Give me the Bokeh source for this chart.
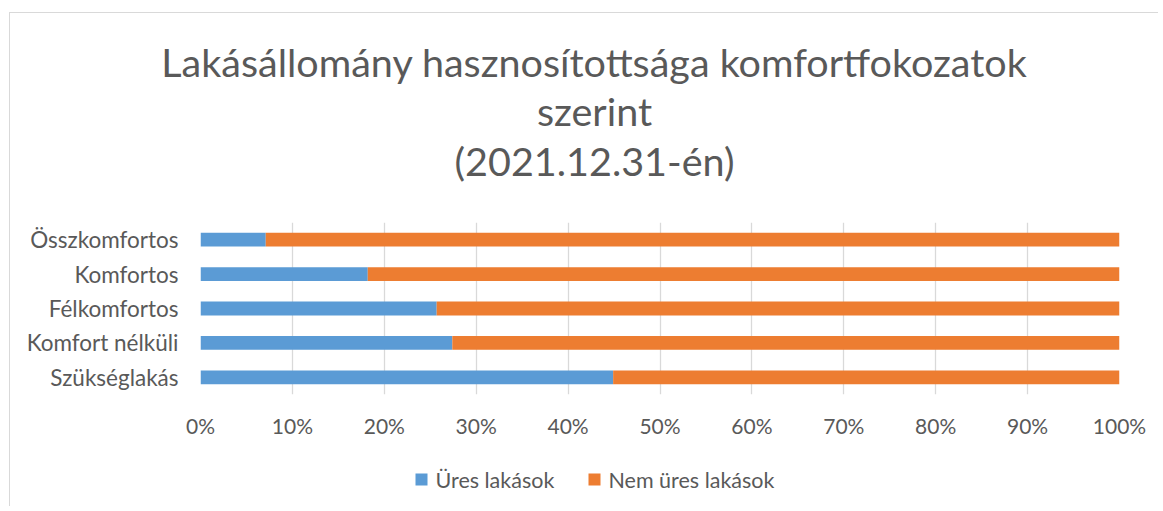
from bokeh.plotting import figure
from bokeh.layouts import column
from bokeh.models import FixedTicker, CustomJSTickFormatter, Range1d
from bokeh.core.properties import value
from bokeh.embed import file_html
from bokeh.resources import INLINE

categories = ["Összkomfortos", "Komfortos", "Félkomfortos", "Komfort nélküli", "Szükséglakás"]
ures = [7.1, 18.2, 25.7, 27.4, 44.9]
nem_ures = [92.9, 81.8, 74.3, 72.6, 55.1]
series_names = ["Üres lakások", "Nem üres lakások"]
x_ticks = [0, 10, 20, 30, 40, 50, 60, 70, 80, 90, 100]
title_lines = ["Lakásállomány hasznosítottsága komfortfokozatok", "szerint", "(2021.12.31-én)"]

FONT = "Lato"
TXT = "#595959"
BLUE = "#5B9BD5"
ORANGE = "#ED7D31"
GRID = "#D9D9D9"
COLORS = [BLUE, ORANGE]

W = 1158
H_TOP, H_MAIN, H_LEG = 200, 245, 61

GRAD = "linear-gradient(#D9D9D9,#D9D9D9)"


def blank(height, top_line=False):
    f = figure(width=W, height=height, x_range=Range1d(0, W), y_range=Range1d(height, 0),
               output_backend="svg", toolbar_location=None, frame_align=False,
               min_border=0, min_border_left=0, min_border_right=0,
               min_border_top=0, min_border_bottom=0)
    f.axis.visible = False
    f.grid.grid_line_color = None
    f.outline_line_color = None
    f.background_fill_color = None
    f.border_fill_color = None
    if top_line:
        f.styles = {"background-color": "white",
                    "background-image": GRAD + ", " + GRAD,
                    "background-size": "100% 1px, 1px 100%",
                    "background-position": "9px 12px, 9px 12px",
                    "background-repeat": "no-repeat"}
    else:
        f.styles = {"background-color": "white",
                    "background-image": GRAD,
                    "background-size": "1px 100%",
                    "background-position": "9px 0px",
                    "background-repeat": "no-repeat"}
    return f


# ---- title ----
pt = blank(H_TOP, top_line=True)
pt.text(x=[594, 594, 594], y=[61, 110, 160], text=title_lines,
        text_align="center", text_baseline="middle",
        text_font=value(FONT), text_font_size="39.5px", text_color=TXT)

# ---- main chart ----
factors = list(reversed(categories))
src = dict(cat=categories, ures=ures, nem=nem_ures)
FL, FT, FW, FH = 200, 22, 919, 172
p = figure(width=W, height=H_MAIN, y_range=factors, x_range=Range1d(0, 100),
           output_backend="svg", toolbar_location=None, frame_align=False,
           min_border_left=FL, min_border_right=W - FL - FW,
           min_border_top=FT, min_border_bottom=H_MAIN - FT - FH)
p.outline_line_color = None
p.background_fill_color = "white"
p.border_fill_color = None
p.styles = {"background-color": "white", "background-image": GRAD,
            "background-size": "1px 100%", "background-position": "9px 0px",
            "background-repeat": "no-repeat"}

p.hbar_stack(["ures", "nem"], y="cat", height=0.4, color=COLORS,
             source=src, line_color=None)

p.xaxis.ticker = FixedTicker(ticks=x_ticks)
p.xaxis.formatter = CustomJSTickFormatter(code="return tick.toFixed(0) + '%';")
for ax in (p.xaxis[0], p.yaxis[0]):
    ax.axis_line_color = None
    ax.major_tick_line_color = None
    ax.minor_tick_line_color = None
    ax.major_tick_out = 0
    ax.major_tick_in = 0
    ax.major_label_text_font = FONT
    ax.major_label_text_color = TXT
p.xaxis.major_label_text_font_size = "21px"
p.yaxis.major_label_text_font_size = "22.5px"
p.xaxis.major_label_standoff = 18
p.yaxis.major_label_standoff = 22
p.ygrid.grid_line_color = None
p.xgrid.grid_line_color = GRID
p.xgrid.grid_line_width = 1.3

# ---- legend ----
pl = blank(H_LEG)
leg_sq_x = [421, 594]
leg_y = [34, 34]
pl.scatter(x=leg_sq_x, y=leg_y, marker="square", size=12, color=COLORS, line_color=None)
pl.text(x=[435, 608], y=leg_y, text=series_names, text_align="left", text_baseline="middle",
        text_font=value(FONT), text_font_size="21.5px", text_color=TXT)

layout = column(pt, p, pl, spacing=0)
open("out.html", "w").write(file_html(layout, INLINE))
